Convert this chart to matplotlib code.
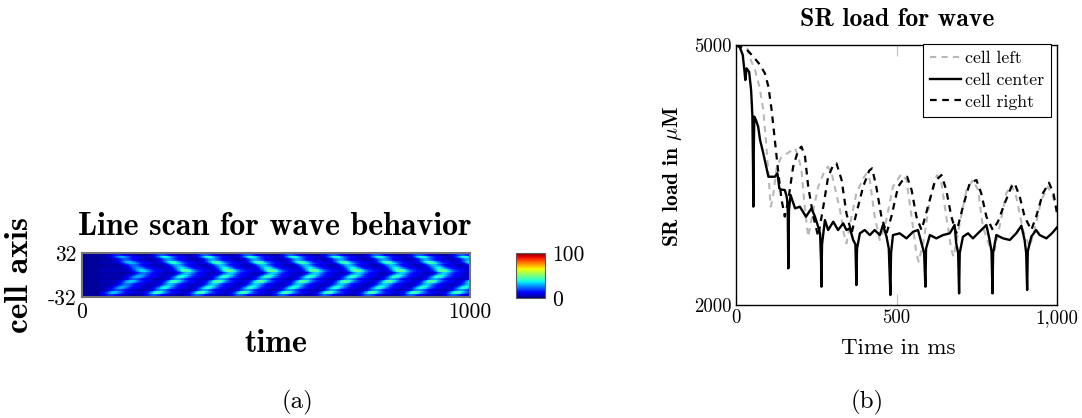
import numpy as np
import matplotlib
matplotlib.use('Agg')
import matplotlib.pyplot as plt

plt.rcParams['mathtext.fontset'] = 'cm'

# --- panel (b): SR load (ms, uM) ---
center_t = [0, 12, 21, 26, 29, 33, 41, 47, 51, 53, 54, 55, 57, 62, 69, 75, 85, 101, 121, 129, 135,
            142, 152, 158, 161, 163, 165, 170, 184, 199, 218, 235, 246, 256, 262, 265, 266, 268, 277,
            287, 303, 318, 334, 344, 355, 365, 372, 375, 377, 386, 401, 417, 432, 448, 458, 469, 476,
            481, 483, 489, 510, 531, 552, 567, 578, 586, 590, 592, 604, 624, 645, 666, 681, 686, 692,
            695, 697, 707, 723, 738, 759, 780, 790, 796, 799, 801, 811, 832, 853, 873, 889, 899, 904,
            907, 909, 920, 935, 946, 967, 985, 1000]
center_v = [5000, 4973, 4885, 4712, 4596, 4730, 4690, 4480, 4192, 3600, 3135, 3700, 4173, 4135, 4058,
            3904, 3750, 3480, 3480, 3520, 3346, 3330, 3327, 3250, 3150, 2423, 3100, 3269, 3115, 3134,
            3019, 3115, 3019, 2903, 2820, 2500, 2211, 2700, 2980, 2865, 2961, 2865, 2942, 2865, 2884,
            2750, 2700, 2230, 2650, 2827, 2865, 2807, 2865, 2807, 2923, 2788, 2650, 2115, 2600, 2807,
            2827, 2769, 2846, 2865, 2711, 2600, 2211, 2650, 2807, 2769, 2807, 2827, 2923, 2711, 2600,
            2134, 2600, 2788, 2827, 2769, 2846, 2923, 2750, 2620, 2134, 2600, 2807, 2769, 2750, 2827,
            2915, 2750, 2600, 2173, 2620, 2788, 2865, 2807, 2769, 2830, 2896]

left_t = [0, 20, 35, 44, 59, 73, 85, 93, 101, 108, 114, 127, 142, 163, 184, 194, 204, 215, 225, 241,
          256, 277, 287, 298, 324, 336, 344, 360, 375, 396, 407, 417, 432, 448, 464, 489, 515, 531,
          547, 562, 569, 583, 604, 626, 640, 655, 671, 678, 697, 718, 738, 754, 769, 790, 806, 821,
          842, 858, 873, 894, 915, 930, 951, 972, 987, 1000]
left_v = [5000, 4990, 4960, 4846, 4712, 4519, 4250, 3904, 3519, 3135, 3212, 3596, 3712, 3758, 3808,
          3712, 3557, 3096, 2788, 3096, 3365, 3557, 3596, 3519, 3096, 2827, 2711, 3019, 3288, 3461,
          3519, 3442, 3019, 2750, 2904, 3365, 3511, 3442, 3019, 2596, 2500, 2711, 3211, 3500, 3403,
          3019, 2634, 2557, 2942, 3327, 3442, 3327, 2904, 2673, 2634, 2904, 3288, 3384, 3250, 2865,
          2673, 2865, 3211, 3365, 3250, 3096]

right_t = [0, 33, 54, 75, 90, 101, 111, 121, 132, 142, 152, 163, 178, 194, 204, 215, 225, 241, 256,
           272, 287, 303, 313, 329, 344, 360, 375, 396, 415, 424, 437, 453, 469, 484, 505, 523, 533,
           547, 562, 578, 598, 619, 640, 655, 671, 686, 707, 728, 749, 764, 780, 800, 816, 837, 858,
           868, 884, 899, 920, 935, 956, 975, 989, 1000]
right_v = [5000, 4950, 4865, 4770, 4673, 4519, 4250, 3904, 3519, 3212, 3020, 3212, 3596, 3788, 3827,
           3712, 3365, 3020, 2790, 3135, 3480, 3615, 3635, 3442, 3058, 2827, 3058, 3365, 3550, 3577,
           3365, 3019, 2827, 3019, 3365, 3461, 3480, 3327, 3019, 2865, 3135, 3423, 3500, 3327, 3019,
           2827, 3135, 3404, 3442, 3288, 3019, 2865, 2961, 3173, 3365, 3404, 3250, 3019, 2865, 3019,
           3288, 3411, 3288, 3058]

# --- panel (a): line scan, chevron apex times and texture ---
wave_apex_ms = [160, 272, 384, 494, 604, 714, 826, 936, 1046]
wave_amp = [0.7, 0.95, 1.0, 1.0, 1.0, 1.0, 1.0, 1.0, 1.0]
arm_lag_ms = 95
apex_cell = 4
row_gain = [0.6, 1.05, 0.8, 1.15, 0.85, 1.0, 1.25, 0.9, 1.1, 0.8, 1.2, 0.9, 1.05, 0.75, 1.15, 0.6]

n_t, n_cells = 500, 64
t_grid = np.linspace(0, 1000, n_t)
cells = np.linspace(32, -32, n_cells)
scan = np.full((n_cells, n_t), 4.0)
for apex, amp in zip(wave_apex_ms, wave_amp):
    front = apex - arm_lag_ms * np.abs(cells - apex_cell) / 36.0
    d = t_grid[None, :] - front[:, None]
    scan += amp * 32 * np.exp(-(d / 22.0) ** 2)
    scan += amp * 7 * np.exp(-((d - 35) / 28.0) ** 2)
scan *= np.repeat(row_gain, n_cells // len(row_gain))[:, None]
scan[:, t_grid < 45] = 2.5

fig = plt.figure(figsize=(10.82, 4.18), dpi=100)
W, H = 1082, 418

def box(x0, y0, x1, y1):
    return [x0 / W, 1 - y1 / H, (x1 - x0) / W, (y1 - y0) / H]

def ftext(x, y, s, **kw):
    fig.text(x / W, 1 - y / H, s, **kw)

# (a)
ax1 = fig.add_axes(box(82, 253, 470, 297))
im = ax1.imshow(scan, cmap='jet', vmin=0, vmax=100, aspect='auto',
                extent=[0, 1000, -32, 32], interpolation='nearest')
ax1.set_xticks([0, 1000])
ax1.set_xticklabels(['0', '1000'], fontfamily='cmr10', fontsize=15.5)
ax1.set_yticks([-32, 32])
ax1.set_yticklabels(['-32', '32'], fontfamily='cmr10', fontsize=15.5)
ax1.tick_params(length=0, pad=4)
for s in ax1.spines.values():
    s.set_color('0.45')
    s.set_linewidth(1.5)

cax = fig.add_axes(box(516, 253, 545, 298))
cb = fig.colorbar(im, cax=cax, ticks=[0, 100])
cb.ax.set_yticklabels(['0', '100'], fontfamily='cmr10', fontsize=15.5)
cb.ax.tick_params(length=0, pad=5)
cb.outline.set_edgecolor('0.35')

ftext(275, 226, 'Line scan for wave behavior', fontfamily='cmb10', fontsize=23,
      ha='center', va='center')
ftext(20, 275, 'cell axis', fontfamily='cmb10', fontsize=24, rotation=90,
      ha='center', va='center')
ftext(276, 344, 'time', fontfamily='cmb10', fontsize=23, ha='center', va='center')
ftext(297, 402, '(a)', fontfamily='cmr10', fontsize=18, ha='center', va='center')

# (b)
ax2 = fig.add_axes(box(736, 45, 1057, 305))
ax2.plot(left_t, left_v, color='0.72', lw=1.5, ls=(0, (3, 2.5)), label='cell left')
ax2.plot(center_t, center_v, color='black', lw=1.7, label='cell center')
ax2.plot(right_t, right_v, color='black', lw=1.6, ls=(0, (3, 2.5)), label='cell right')
ax2.set_xlim(0, 1000)
ax2.set_ylim(2000, 5000)
ax2.set_xticks([0, 500, 1000])
ax2.set_xticklabels(['0', '500', '1,000'], fontfamily='cmr10', fontsize=13.5)
ax2.set_yticks([2000, 5000])
ax2.set_yticklabels(['2000', '5000'], fontfamily='cmr10', fontsize=13.5)
ax2.tick_params(direction='in', length=8, color='0.75', top=True, right=True, pad=3)
for s in ax2.spines.values():
    s.set_linewidth(1.0)
leg = ax2.legend(loc='upper right', bbox_to_anchor=(0.982, 1.005), fancybox=False,
                 framealpha=1, edgecolor='black', borderaxespad=0, handlelength=1.7,
                 handletextpad=0.25, borderpad=0.4, labelspacing=0.35,
                 prop={'family': 'cmr10', 'size': 12.8})
leg.get_frame().set_linewidth(0.8)

ftext(897, 20, 'SR load for wave', fontfamily='cmb10', fontsize=18.5, ha='center', va='center')
ftext(672, 176, r'SR load in $\mu$M', fontfamily='cmb10', fontsize=15.5, rotation=90,
      ha='center', va='center')
ftext(898, 348, 'Time in ms', fontfamily='cmr10', fontsize=16.5, ha='center', va='center')
ftext(867, 402, '(b)', fontfamily='cmr10', fontsize=18, ha='center', va='center')

fig.savefig('out.png', dpi=100)
